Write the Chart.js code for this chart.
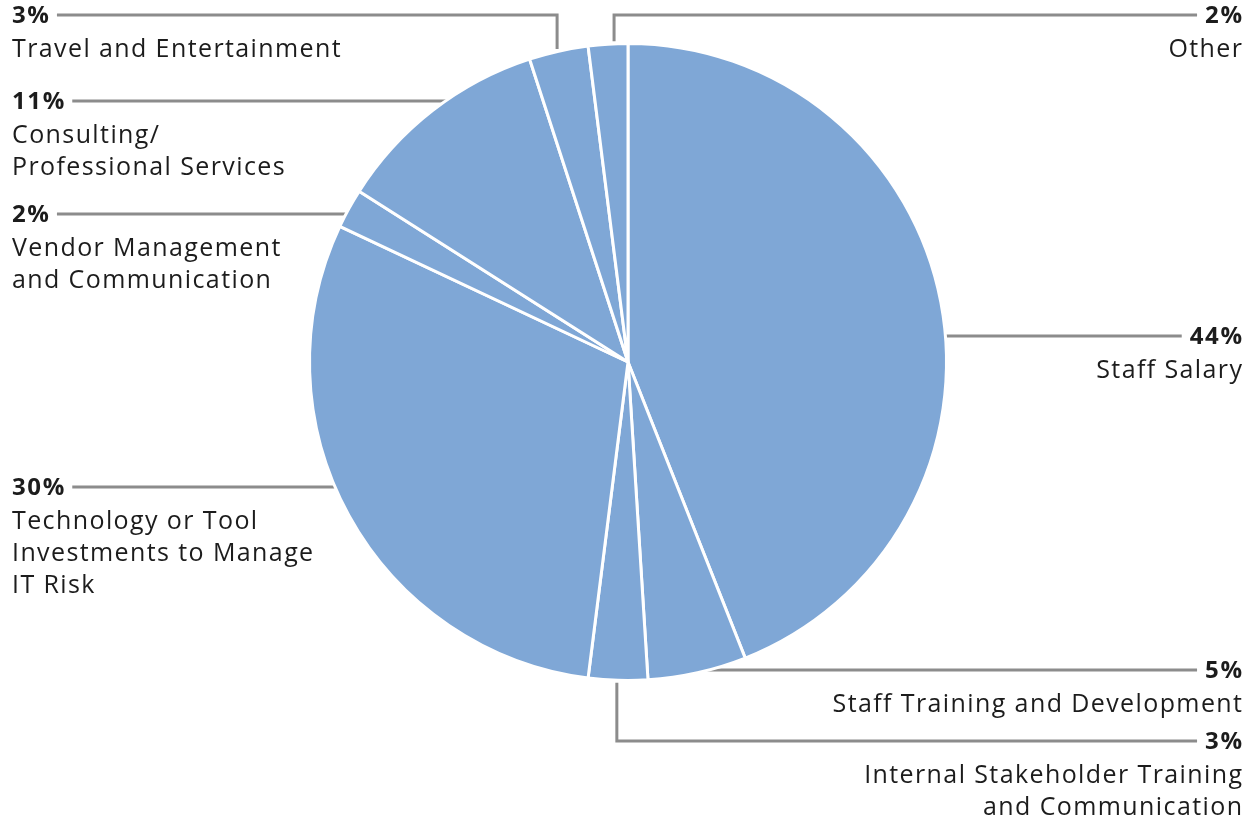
<!DOCTYPE html>
<html>
<head>
<meta charset="utf-8">
<script src="https://cdn.jsdelivr.net/npm/chart.js@4.4.0/dist/chart.umd.min.js"></script>
<style>
  html, body { margin: 0; padding: 0; background: #ffffff; }
  #wrap { width: 1250px; height: 818px; position: relative; }
</style>
</head>
<body>
<div id="wrap"><canvas id="chart" width="1250" height="818"></canvas></div>
<script>
// Spending categories (each entry holds the wrapped lines of its label)
const categories = [
  ['Staff Salary'],
  ['Staff Training and Development'],
  ['Internal Stakeholder Training', 'and Communication'],
  ['Technology or Tool', 'Investments to Manage', 'IT Risk'],
  ['Vendor Management', 'and Communication'],
  ['Consulting/', 'Professional Services'],
  ['Travel and Entertainment'],
  ['Other']
];

// Share of budget, in percent
const shares = [44, 5, 3, 30, 2, 11, 3, 2];

// Callout placement: which side the text sits on, the row of the leader line,
// and whether the leader runs straight to the pie edge or bends from the slice.
const callouts = [
  { side: 'right', row: 336, kind: 'edge' },
  { side: 'right', row: 670, kind: 'edge' },
  { side: 'right', row: 741, kind: 'elbow', at: 0.52 },
  { side: 'left',  row: 487, kind: 'edge' },
  { side: 'left',  row: 214, kind: 'edge' },
  { side: 'left',  row: 101, kind: 'edge' },
  { side: 'left',  row: 15,  kind: 'elbow', at: 0.47 },
  { side: 'right', row: 15,  kind: 'elbow', at: 0.65 }
];

const SLICE_COLOR = '#7fa7d6';
const LINE_COLOR = '#8c8c8c';
const TEXT_COLOR = '#1c1c1c';
const FONT = '"Open Sans", "DejaVu Sans", sans-serif';
const PCT_FONT = 'bold 24px ' + FONT;
const LABEL_FONT = '25px ' + FONT;
const PCT_SPACING = 1.6;
const LABEL_SPACING = 1.4;
const LEFT_X = 12;
const RIGHT_X = 1242;
const LINE_GAP = 8;
const LINE_HEIGHT = 32;
const FIRST_LINE_OFFSET = 35;

function pieGeometry(chart) {
  const meta = chart.getDatasetMeta(0);
  return meta.data.map(arc => arc.getProps(['x', 'y', 'startAngle', 'endAngle', 'outerRadius'], true));
}

function setText(ctx, font, spacing) {
  ctx.font = font;
  ctx.letterSpacing = spacing + 'px';
}

const leaderPlugin = {
  id: 'leaders',
  beforeDatasetsDraw(chart) {
    const ctx = chart.ctx;
    const arcs = pieGeometry(chart);
    ctx.save();
    ctx.strokeStyle = LINE_COLOR;
    ctx.lineWidth = 3;
    ctx.lineJoin = 'miter';
    ctx.lineCap = 'butt';
    setText(ctx, PCT_FONT, PCT_SPACING);
    arcs.forEach((a, i) => {
      const c = callouts[i];
      const pctW = ctx.measureText(shares[i] + '%').width - PCT_SPACING;
      const textEdge = c.side === 'left' ? LEFT_X + pctW + LINE_GAP : RIGHT_X - pctW - LINE_GAP;
      const R = a.outerRadius - 1.5;
      ctx.beginPath();
      if (c.kind === 'edge') {
        const dy = c.row - a.y;
        const half = Math.sqrt(Math.max(R * R - dy * dy, 0));
        const edgeX = c.side === 'left' ? a.x - half + 12 : a.x + half - 12;
        ctx.moveTo(textEdge, c.row);
        ctx.lineTo(edgeX, c.row);
      } else {
        const ang = a.startAngle + c.at * (a.endAngle - a.startAngle);
        const px = a.x + R * Math.cos(ang);
        const py = a.y + R * Math.sin(ang);
        const dir = c.row < py ? -1 : 1;
        ctx.moveTo(px, py + dir * 4);
        ctx.lineTo(px, c.row);
        ctx.lineTo(textEdge, c.row);
      }
      ctx.stroke();
    });
    ctx.restore();
  },
  afterDatasetsDraw(chart) {
    const ctx = chart.ctx;
    ctx.save();
    ctx.fillStyle = TEXT_COLOR;
    ctx.textBaseline = 'middle';
    categories.forEach((lines, i) => {
      const c = callouts[i];
      const left = c.side === 'left';
      ctx.textAlign = left ? 'left' : 'right';
      setText(ctx, PCT_FONT, PCT_SPACING);
      ctx.fillText(shares[i] + '%', left ? LEFT_X : RIGHT_X + PCT_SPACING, c.row + 1);
      setText(ctx, LABEL_FONT, LABEL_SPACING);
      lines.forEach((line, k) => {
        ctx.fillText(line, left ? LEFT_X : RIGHT_X + LABEL_SPACING, c.row + FIRST_LINE_OFFSET + k * LINE_HEIGHT);
      });
    });
    ctx.restore();
  }
};

new Chart(document.getElementById('chart'), {
  type: 'pie',
  data: {
    labels: categories.map(l => l.join(' ')),
    datasets: [{
      data: shares,
      backgroundColor: SLICE_COLOR,
      borderColor: '#ffffff',
      borderWidth: 3,
      radius: 318.5
    }]
  },
  options: {
    responsive: false,
    animation: false,
    devicePixelRatio: 1,
    layout: { padding: { left: 300, right: 294, top: 34, bottom: 128 } },
    plugins: {
      legend: { display: false },
      tooltip: { enabled: false }
    }
  },
  plugins: [leaderPlugin]
});
</script>
</body>
</html>
